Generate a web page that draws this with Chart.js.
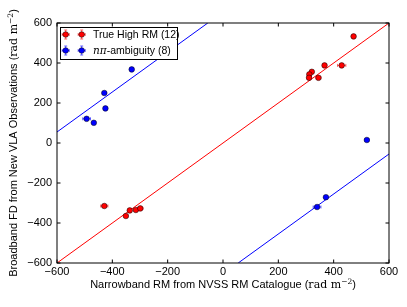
<!DOCTYPE html>
<html>
<head>
<meta charset="utf-8">
<script src="https://cdn.jsdelivr.net/npm/chart.js@4/dist/chart.umd.min.js"></script>
<style>
html,body{margin:0;padding:0;background:#fff;}
canvas{display:block;}
</style>
</head>
<body>
<canvas id="c" width="407" height="307" style="width:407px;height:307px"></canvas>
<script>
// ---- data ----
const redX    = [472, 367, 429, 321, 312, 311, 345, -429, -351, -337, -315, -299];
const redY    = [533, 388, 388, 356, 343, 326, 326, -315, -365, -337, -335, -327];
const redXErr = [4, 5, 15, 4, 4, 8, 9, 13, 4, 4, 4, 10];
const redYErr = [4, 4, 4, 4, 4, 4, 4, 4, 4, 4, 4, 4];

const blueX    = [-330, -429, -425, -493, -467, 520, 372, 340];
const blueY    = [368, 250, 173, 121, 101, 15, -271, -320];
const blueXErr = [7, 4, 4, 14, 4, 7, 4, 14];
const blueYErr = [4, 4, 4, 4, 4, 4, 4, 4];

const oneToOneX = [-600, 600];
const oneToOneY = [-600, 600];
const ambUpperX = [-600, -55];
const ambUpperY = [55, 600];
const ambLowerX = [55, 600];
const ambLowerY = [-600, -55];

const xTickValues = [-600, -400, -200, 0, 200, 400, 600];
const yTickValues = [-600, -400, -200, 0, 200, 400, 600];

const legendLabels = ['True High RM (12)', '-ambiguity (8)'];
const legendPrefix = ['', 'nπ'];

const xTitle = 'Narrowband RM from NVSS RM Catalogue';
const yTitle = 'Broadband FD from New VLA Observations';
const unitMain = 'rad m';
const unitExp = '−2';

// ---- helpers ----
const SANS = '"Liberation Sans", Arial, sans-serif';
const SERIF = '"DejaVu Serif", "Liberation Serif", serif';
const pts = (xs, ys) => xs.map((x, i) => ({x: x, y: ys[i]}));
const fmt = v => (v < 0 ? '\u2212' + Math.abs(v) : String(v));

function drawTitle(ctx, text, cx, cy, rotate) {
  const parts = [
    {t: text + ' (', f: '11px ' + SANS, dy: 0},
    {t: unitMain, f: '11px ' + SERIF, dy: 0},
    {t: unitExp, f: '7.5px ' + SERIF, dy: -4},
    {t: ')', f: '11px ' + SANS, dy: 0}
  ];
  ctx.save();
  let w = 0;
  parts.forEach(p => { ctx.font = p.f; p.w = ctx.measureText(p.t).width; w += p.w; });
  ctx.translate(cx, cy);
  if (rotate) ctx.rotate(-Math.PI / 2);
  ctx.fillStyle = '#000';
  ctx.textBaseline = 'alphabetic';
  ctx.textAlign = 'left';
  let x = -w / 2;
  parts.forEach(p => { ctx.font = p.f; ctx.fillText(p.t, x, p.dy); x += p.w; });
  ctx.restore();
}

function errBar(ctx, px, py, x0, x1, y0, y1, cap) {
  ctx.beginPath();
  ctx.moveTo(x0, py); ctx.lineTo(x1, py);
  ctx.moveTo(x0, py - cap); ctx.lineTo(x0, py + cap);
  ctx.moveTo(x1, py - cap); ctx.lineTo(x1, py + cap);
  ctx.moveTo(px, y0); ctx.lineTo(px, y1);
  ctx.moveTo(px - cap, y0); ctx.lineTo(px + cap, y0);
  ctx.moveTo(px - cap, y1); ctx.lineTo(px + cap, y1);
  ctx.stroke();
}

function marker(ctx, x, y, fill) {
  ctx.beginPath();
  ctx.arc(x, y, 2.8, 0, Math.PI * 2);
  ctx.fillStyle = fill; ctx.fill();
  ctx.lineWidth = 0.5; ctx.strokeStyle = '#000'; ctx.stroke();
}

const errSets = [
  {xs: redX, ys: redY, ex: redXErr, ey: redYErr, color: 'rgba(255,0,0,0.6)'},
  {xs: blueX, ys: blueY, ex: blueXErr, ey: blueYErr, color: 'rgba(0,0,255,0.6)'}
];

const decor = {
  id: 'decor',
  beforeDatasetsDraw(chart) {
    const ctx = chart.ctx, sx = chart.scales.x, sy = chart.scales.y;
    ctx.save();
    ctx.lineWidth = 1;
    errSets.forEach(s => {
      ctx.strokeStyle = s.color;
      s.xs.forEach((x, i) => {
        const y = s.ys[i];
        errBar(ctx, sx.getPixelForValue(x), sy.getPixelForValue(y),
          sx.getPixelForValue(x - s.ex[i]), sx.getPixelForValue(x + s.ex[i]),
          sy.getPixelForValue(y - s.ey[i]), sy.getPixelForValue(y + s.ey[i]), 1.5);
      });
    });
    ctx.restore();
  },
  afterDatasetsDraw(chart) {
    const ctx = chart.ctx, a = chart.chartArea, sx = chart.scales.x, sy = chart.scales.y;
    ctx.save();
    ctx.strokeStyle = '#000';
    ctx.lineWidth = 1;
    ctx.strokeRect(a.left, a.top, a.right - a.left, a.bottom - a.top);
    const tl = 3.5;
    ctx.beginPath();
    xTickValues.forEach(v => {
      const p = sx.getPixelForValue(v);
      ctx.moveTo(p, a.bottom); ctx.lineTo(p, a.bottom - tl);
      ctx.moveTo(p, a.top); ctx.lineTo(p, a.top + tl);
    });
    yTickValues.forEach(v => {
      const p = sy.getPixelForValue(v);
      ctx.moveTo(a.left, p); ctx.lineTo(a.left + tl, p);
      ctx.moveTo(a.right, p); ctx.lineTo(a.right - tl, p);
    });
    ctx.stroke();
    ctx.restore();
  },
  afterDraw(chart) {
    const ctx = chart.ctx, a = chart.chartArea;
    drawTitle(ctx, xTitle, (a.left + a.right) / 2, 288, false);
    drawTitle(ctx, yTitle, 16.5, (a.top + a.bottom) / 2, true);
    // legend
    ctx.save();
    ctx.fillStyle = '#fff';
    ctx.fillRect(60.5, 27.5, 117, 32);
    ctx.strokeStyle = '#000';
    ctx.lineWidth = 1;
    ctx.strokeRect(60.5, 27.5, 117, 32);
    const rows = [34.5, 50.5];
    const cols = [65.7, 81.7];
    const fills = ['#ff0000', '#0000ff'];
    rows.forEach((ry, r) => {
      ctx.lineWidth = 1;
      ctx.strokeStyle = errSets[r].color;
      cols.forEach(cx => errBar(ctx, cx, ry, cx - 3.5, cx + 3.5, ry - 4.5, ry + 4.5, 1.5));
      cols.forEach(cx => marker(ctx, cx, ry, fills[r]));
      ctx.fillStyle = '#000';
      ctx.textBaseline = 'middle';
      ctx.textAlign = 'left';
      let tx = 93;
      if (legendPrefix[r]) {
        ctx.font = 'italic 10.5px ' + SERIF;
        ctx.fillText(legendPrefix[r], tx, ry + 0.5);
        tx += ctx.measureText(legendPrefix[r]).width;
      }
      ctx.font = '10.5px ' + SANS;
      ctx.fillText(legendLabels[r], tx, ry + 0.5);
    });
    ctx.restore();
  }
};

const tickFont = {family: SANS, size: 11};

new Chart(document.getElementById('c'), {
  type: 'scatter',
  data: {
    datasets: [
      {label: 'True High RM (12)', data: pts(redX, redY), backgroundColor: '#ff0000',
       borderColor: '#000', borderWidth: 0.5, pointRadius: 2.8, order: 0},
      {label: 'nπ-ambiguity (8)', data: pts(blueX, blueY), backgroundColor: '#0000ff',
       borderColor: '#000', borderWidth: 0.5, pointRadius: 2.8, order: 0},
      {label: 'one-to-one', data: pts(oneToOneX, oneToOneY), showLine: true, borderColor: '#ff0000',
       borderWidth: 1, pointRadius: 0, order: 1},
      {label: 'upper', data: pts(ambUpperX, ambUpperY), showLine: true, borderColor: '#0000ff',
       borderWidth: 1, pointRadius: 0, order: 1},
      {label: 'lower', data: pts(ambLowerX, ambLowerY), showLine: true, borderColor: '#0000ff',
       borderWidth: 1, pointRadius: 0, order: 1}
    ]
  },
  options: {
    responsive: false,
    devicePixelRatio: 1,
    animation: false,
    layout: {padding: {top: 23, right: 18, left: 0, bottom: 0}},
    plugins: {legend: {display: false}, tooltip: {enabled: false}},
    scales: {
      x: {
        type: 'linear', min: -600, max: 600,
        afterBuildTicks: s => { s.ticks = xTickValues.map(v => ({value: v})); },
        afterFit: s => { s.height = 44; },
        ticks: {callback: v => fmt(v), font: tickFont, color: '#000', padding: 2, maxRotation: 0, autoSkip: false},
        grid: {display: false, drawTicks: false},
        border: {display: false}
      },
      y: {
        type: 'linear', min: -600, max: 600,
        afterBuildTicks: s => { s.ticks = yTickValues.map(v => ({value: v})); },
        afterFit: s => { s.width = 57; },
        ticks: {callback: v => fmt(v), font: tickFont, color: '#000', padding: 5, autoSkip: false},
        grid: {display: false, drawTicks: false},
        border: {display: false}
      }
    }
  },
  plugins: [decor]
});
</script>
</body>
</html>
